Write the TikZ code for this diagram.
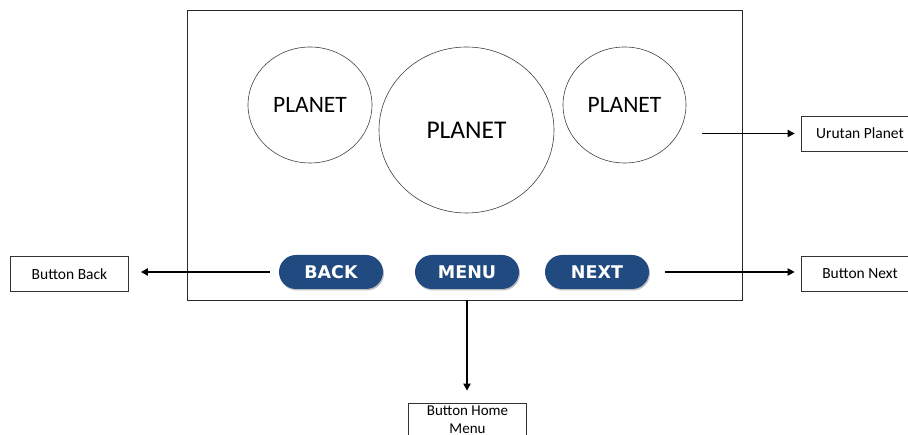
\documentclass[tikz,border=0pt]{standalone}
\usepackage{fontspec}
\setmainfont{Carlito}
\newfontfamily\btnfont{DejaVu Sans}
\usetikzlibrary{arrows.meta,shapes.geometric}
\definecolor{btnblue}{RGB}{33,75,128}
\definecolor{framegray}{RGB}{40,40,40}
\begin{document}
\begin{tikzpicture}[x=1pt,y=-1pt,
  planet/.style={ellipse,draw=black!75,line width=0.6pt,inner sep=0pt,font=\fontsize{23.5}{26}\selectfont},
  btn/.style={rounded corners=17pt,fill=btnblue,minimum width=104pt,minimum height=34pt,inner sep=0pt,
    text=white,font=\btnfont\bfseries\fontsize{17.5}{19}\selectfont},
  shadowbtn/.style={rounded corners=17pt,fill=black!25,minimum width=104pt,minimum height=34pt,inner sep=0pt},
  label/.style={draw=black!80,line width=0.6pt,minimum width=118pt,minimum height=35pt,inner sep=0pt,
    font=\fontsize{15.5}{18}\selectfont},
  arr/.style={line width=1.8pt,-{Triangle[length=7pt,width=7pt]}}]
\useasboundingbox (0,0) rectangle (908,435);
\clip (0,0) rectangle (908,435);
% frame
\node[draw=framegray,line width=0.7pt,minimum width=555pt,minimum height=290pt,inner sep=0pt] (frame) at (464.5,155) {};
% planets
\node[planet,minimum width=124pt,minimum height=116pt] (p1) at (310,105) {PLANET};
\node[planet,minimum width=175pt,minimum height=166pt,font=\fontsize{25.5}{28}\selectfont] (p2) at (466.5,130) {PLANET};
\node[planet,minimum width=123pt,minimum height=116pt] (p3) at (624.5,105) {PLANET};
% button shadows
\node[shadowbtn] (sh1) at (332,273.5) {};
\node[shadowbtn] (sh2) at (468,273.5) {};
\node[shadowbtn] (sh3) at (598,273.5) {};
% buttons
\node[btn] (back) at (331,272) {BACK};
\node[btn] (menu) at (467,272) {MENU};
\node[btn] (next) at (597,272) {NEXT};
% labels
\node[label] (bback) at (69.5,274) {Button Back};
\node[label] (bnext) at (860,273.5) {Button Next};
\node[label] (urutan) at (860,133.5) {Urutan Planet};
\node[label,minimum height=44pt] (bhome) at (467.5,425) {};
\node[font=\fontsize{15}{17.5}\selectfont,align=center,inner sep=0pt] (bhometext) at (467.5,419.5) {Button Home\\Menu};
% arrows
\draw[arr,shorten <=9pt,shorten >=12pt] (back.west) -- (bback.east |- back.west);
\draw[arr,shorten <=16pt,shorten >=6pt] (next.east) -- (bnext.west |- next.east);
\draw[arr,shorten <=16pt,shorten >=6pt] (p3.east |- urutan.west) -- (urutan.west);
\draw[arr,shorten >=12pt] (menu.south |- frame.south) -- (bhome.north -| menu.south);
\end{tikzpicture}
\end{document}
